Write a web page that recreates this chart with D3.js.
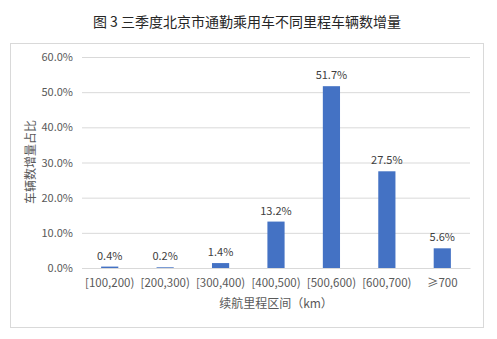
<!DOCTYPE html>
<html>
<head>
<meta charset="utf-8">
<script src="https://cdn.jsdelivr.net/npm/d3@7"></script>
<style>
  body { margin: 0; background: #fff; }
  svg text { font-family: "Noto Sans CJK SC", "Liberation Sans", sans-serif; }
</style>
</head>
<body>
<div id="chart"></div>
<script>
var categories = ['[100,200)', '[200,300)', '[300,400)', '[400,500)', '[500,600)', '[600,700)', '≥700'];
var shares = [0.4, 0.2, 1.4, 13.2, 51.7, 27.5, 5.6];
var yTicks = [0, 10, 20, 30, 40, 50, 60];

var WIDTH = 497, HEIGHT = 339;
var margin = { left: 82, right: 27, top: 57, bottom: 71 };

var svg = d3.select('#chart').append('svg')
  .attr('width', WIDTH)
  .attr('height', HEIGHT);

// outer frame
svg.append('rect')
  .attr('x', 10.5).attr('y', 43.5)
  .attr('width', 473).attr('height', 284)
  .attr('fill', '#fff').attr('stroke', '#d9d9d9');

svg.append('text')
  .attr('x', 247).attr('y', 27)
  .attr('text-anchor', 'middle')
  .attr('font-size', 14)
  .attr('fill', '#262626')
  .text('图 3 三季度北京市通勤乘用车不同里程车辆数增量');

var x = d3.scaleBand()
  .domain(categories)
  .range([margin.left, WIDTH - margin.right])
  .paddingInner(0.69)
  .paddingOuter(0.345);

var y = d3.scaleLinear()
  .domain([0, 60])
  .range([HEIGHT - margin.bottom, margin.top]);

// grid + y labels
var yAxis = d3.axisLeft(y)
  .tickValues(yTicks)
  .tickSize(-(WIDTH - margin.left - margin.right))
  .tickPadding(9)
  .tickFormat(function(d) { return d.toFixed(1) + '%'; });

var gy = svg.append('g')
  .attr('transform', 'translate(' + margin.left + ',0)')
  .call(yAxis);
gy.select('.domain').remove();
gy.selectAll('line').attr('stroke', '#d9d9d9');
gy.selectAll('text')
  .attr('fill', '#595959')
  .attr('font-size', 11);

// bars
svg.selectAll('rect.bar')
  .data(shares)
  .enter().append('rect')
  .attr('class', 'bar')
  .attr('x', function(d, i) { return x(categories[i]); })
  .attr('width', x.bandwidth())
  .attr('y', function(d) { return y(d); })
  .attr('height', function(d) { return y(0) - y(d); })
  .attr('fill', '#4472c4');

// value labels
svg.selectAll('text.val')
  .data(shares)
  .enter().append('text')
  .attr('class', 'val')
  .attr('x', function(d, i) { return x(categories[i]) + x.bandwidth() / 2; })
  .attr('y', function(d) { return y(d) - 7; })
  .attr('text-anchor', 'middle')
  .attr('font-size', 11)
  .attr('fill', '#404040')
  .text(function(d) { return d.toFixed(1) + '%'; });

// x axis baseline + labels
var xAxis = d3.axisBottom(x).tickSize(0).tickPadding(11);
var gx = svg.append('g')
  .attr('transform', 'translate(0,' + y(0) + ')')
  .call(xAxis);
gx.select('.domain').attr('stroke', '#d9d9d9');
gx.selectAll('text')
  .attr('fill', '#595959')
  .attr('font-size', 11.5);

svg.append('text')
  .attr('x', (margin.left + WIDTH - margin.right) / 2)
  .attr('y', 308)
  .attr('text-anchor', 'middle')
  .attr('font-size', 12)
  .attr('fill', '#595959')
  .text('续航里程区间（km）');

svg.append('text')
  .attr('transform', 'translate(35,162) rotate(-90)')
  .attr('text-anchor', 'middle')
  .attr('font-size', 12)
  .attr('fill', '#595959')
  .text('车辆数增量占比');
</script>
</body>
</html>
